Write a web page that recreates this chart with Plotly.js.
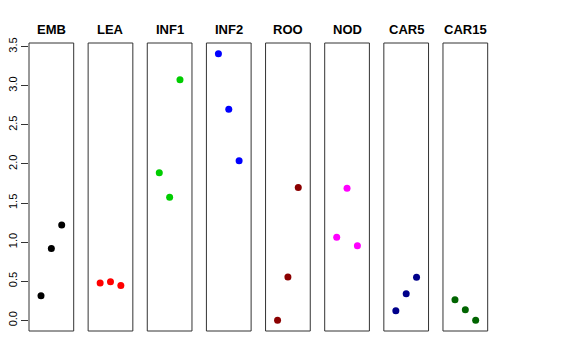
<!DOCTYPE html>
<html>
<head>
<meta charset="utf-8">
<script src="https://cdn.plot.ly/plotly-3.0.1.min.js"></script>
<style>html,body{margin:0;padding:0;background:#fff;}</style>
</head>
<body>
<div id="chart" style="width:576px;height:360px;"></div>
<script>
const categories = ["EMB", "LEA", "INF1", "INF2", "ROO", "NOD", "CAR5", "CAR15"];
const colors = ["#000000", "#FF0000", "#00CD00", "#0000FF", "#8B0000", "#FF00FF", "#00008B", "#006400"];
const xPos = [1, 2, 3];
const EMB = [0.315, 0.92, 1.22];
const LEA = [0.477, 0.494, 0.447];
const INF1 = [1.888, 1.573, 3.077];
const INF2 = [3.41, 2.70, 2.04];
const ROO = [0.0, 0.554, 1.70];
const NOD = [1.061, 1.688, 0.954];
const CAR5 = [0.123, 0.34, 0.55];
const CAR15 = [0.263, 0.136, 0.0];
const series = [EMB, LEA, INF1, INF2, ROO, NOD, CAR5, CAR15];
const yTicks = [0, 0.5, 1, 1.5, 2, 2.5, 3, 3.5];
const yTickText = ["0.0", "0.5", "1.0", "1.5", "2.0", "2.5", "3.0", "3.5"];

const W = 576, H = 360;
const left0 = 29, step = 59.14, pw = 44.7;
const panelTop = 43, panelBottom = 331;
const ydom = [1 - panelBottom / H, 1 - panelTop / H];

const traces = [];
const shapes = [];
const annotations = [];
const layout = {
  width: W, height: H,
  margin: {l: 0, r: 0, t: 0, b: 0},
  paper_bgcolor: "#fff", plot_bgcolor: "rgba(0,0,0,0)",
  showlegend: false,
  font: {family: "Liberation Sans, Arial, sans-serif", color: "#000"},
  yaxis: {
    domain: ydom, range: [-0.1364, 3.5464],
    tickvals: yTicks, ticktext: yTickText,
    ticks: "outside", ticklen: 7, tickcolor: "#333", tickwidth: 1,
    tickangle: -90, showgrid: false, zeroline: false, showline: false,
    tickfont: {size: 11, family: "Liberation Sans, Arial, sans-serif", color: "#000"},
    anchor: "x"
  }
};

categories.forEach((cat, i) => {
  const ax = i === 0 ? "x" : "x" + (i + 1);
  const axKey = i === 0 ? "xaxis" : "xaxis" + (i + 1);
  const l = left0 + i * step;
  const r = l + pw;
  layout[axKey] = {
    domain: [l / W, r / W], range: [-0.16, 4.16],
    visible: false, anchor: "y", fixedrange: true
  };
  traces.push({
    x: xPos, y: series[i], type: "scatter", mode: "markers",
    xaxis: ax, yaxis: "y",
    marker: {color: colors[i], size: 7},
    hoverinfo: "none"
  });
  shapes.push({
    type: "rect", xref: ax + " domain", yref: "y domain",
    x0: 0, x1: 1, y0: 0, y1: 1,
    line: {color: "#333", width: 1}
  });
  annotations.push({
    text: "<b>" + cat + "</b>", xref: "paper", yref: "paper",
    x: (l + r) / 2 / W, y: 1 - 29 / H, xanchor: "center", yanchor: "middle",
    showarrow: false, font: {size: 13, color: "#000", family: "Liberation Sans, Arial, sans-serif"}
  });
});
layout.shapes = shapes;
layout.annotations = annotations;

Plotly.newPlot("chart", traces, layout, {staticPlot: true, displayModeBar: false});
</script>
</body>
</html>
